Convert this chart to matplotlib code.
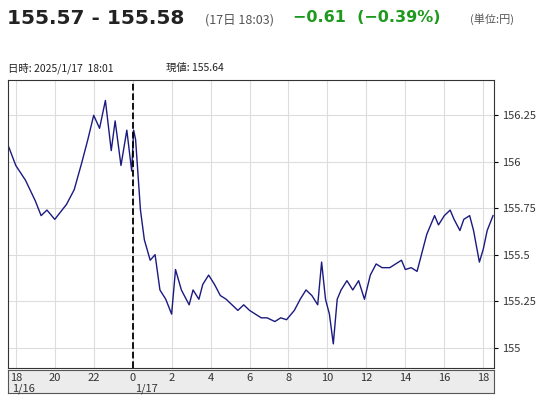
import matplotlib
matplotlib.use("Agg")
import matplotlib.pyplot as plt

plt.rcParams['font.family'] = ['Noto Sans CJK JP', 'DejaVu Sans']

hours = [17.6,18,18.5,19,19.3,19.6,20,20.3,20.6,21,21.4,21.7,22,22.3,22.6,22.9,23.1,23.4,23.7,23.95,24.05,24.15,24.4,24.6,24.9,25.15,25.4,25.7,26,26.2,26.5,26.9,27.1,27.4,27.6,27.9,28.2,28.5,28.8,29.1,29.4,29.7,30,30.3,30.6,30.9,31.3,31.6,31.9,32.3,32.6,32.9,33.2,33.5,33.7,33.9,34.1,34.3,34.5,34.7,35,35.3,35.6,35.9,36.2,36.5,36.8,37.2,37.5,37.8,38,38.3,38.6,38.9,39.1,39.5,39.7,40,40.3,40.5,40.8,41,41.3,41.5,41.8,42,42.2,42.5]
prices = [156.09,155.98,155.9,155.79,155.71,155.74,155.69,155.73,155.77,155.85,156.0,156.12,156.25,156.18,156.33,156.06,156.22,155.98,156.17,155.95,156.17,156.12,155.74,155.58,155.47,155.5,155.31,155.26,155.18,155.42,155.31,155.23,155.31,155.26,155.34,155.39,155.34,155.28,155.26,155.23,155.2,155.23,155.2,155.18,155.16,155.16,155.14,155.16,155.15,155.2,155.26,155.31,155.28,155.23,155.46,155.26,155.18,155.02,155.26,155.31,155.36,155.31,155.36,155.26,155.39,155.45,155.43,155.43,155.45,155.47,155.42,155.43,155.41,155.53,155.61,155.71,155.66,155.71,155.74,155.69,155.63,155.69,155.71,155.63,155.46,155.53,155.63,155.71]
xticks = [18,20,22,24,26,28,30,32,34,36,38,40,42]
xlabels = ['18','20','22','0','2','4','6','8','10','12','14','16','18']
yticks = [155.0,155.25,155.5,155.75,156.0,156.25]
ylabels = ['155','155.25','155.5','155.75','156','156.25']

W, H = 548, 400
fig = plt.figure(figsize=(W/100, H/100), dpi=100)
ax = fig.add_axes([8/W, 1-368/H, 486/W, 288/H])
ax.plot(hours, prices, color='#1a1a80', lw=1)
ax.axvline(24, color='black', ls='--', lw=1.3)
ax.set_xlim(17.6, 42.55)
ax.set_ylim(154.89, 156.44)
ax.set_xticks(xticks)
ax.set_xticklabels([])
ax.set_yticks(yticks)
ax.set_yticklabels(ylabels, fontsize=8, color='#333333')
ax.yaxis.tick_right()
ax.tick_params(axis='y', length=3, pad=3)
ax.tick_params(axis='x', length=0)
ax.grid(True, color='#dddddd', lw=0.8)
for s in ax.spines.values():
    s.set_color('#333333')

bx = fig.add_axes([8/W, 1-393/H, 486/W, 23/H])
bx.set_facecolor('#ececec')
bx.set_xlim(17.6, 42.55)
bx.set_ylim(0, 1)
bx.set_xticks([]); bx.set_yticks([])
for s in bx.spines.values():
    s.set_color('#555555')
for t, l in zip(xticks, xlabels):
    bx.text(t, 0.66, l, ha='center', va='center', fontsize=8, color='#333333')
bx.text(18.4, 0.2, '1/16', ha='center', va='center', fontsize=8, color='#333333')
bx.text(24.7, 0.2, '1/17', ha='center', va='center', fontsize=8, color='#333333')

fig.text(7/W, 1-18/H, '155.57 - 155.58', fontsize=14.5, fontweight='bold', color='#222222',
         va='center', family=['DejaVu Sans'])
fig.text(205/W, 1-20/H, '(17日 18:03)', fontsize=9, color='#555555', va='center')
fig.text(293/W, 1-18/H, '−0.61  (−0.39%)', fontsize=11.5, fontweight='bold', color='#1e9a1e',
         va='center', family=['DejaVu Sans'])
fig.text(470/W, 1-19/H, '(単位:円)', fontsize=8, color='#555555', va='center')
fig.text(8/W, 1-68/H, '日時: 2025/1/17  18:01', fontsize=7.5, color='#222222', va='center')
fig.text(166/W, 1-68/H, '現値: 155.64', fontsize=7.5, color='#222222', va='center')

fig.savefig('out.png', dpi=100)
